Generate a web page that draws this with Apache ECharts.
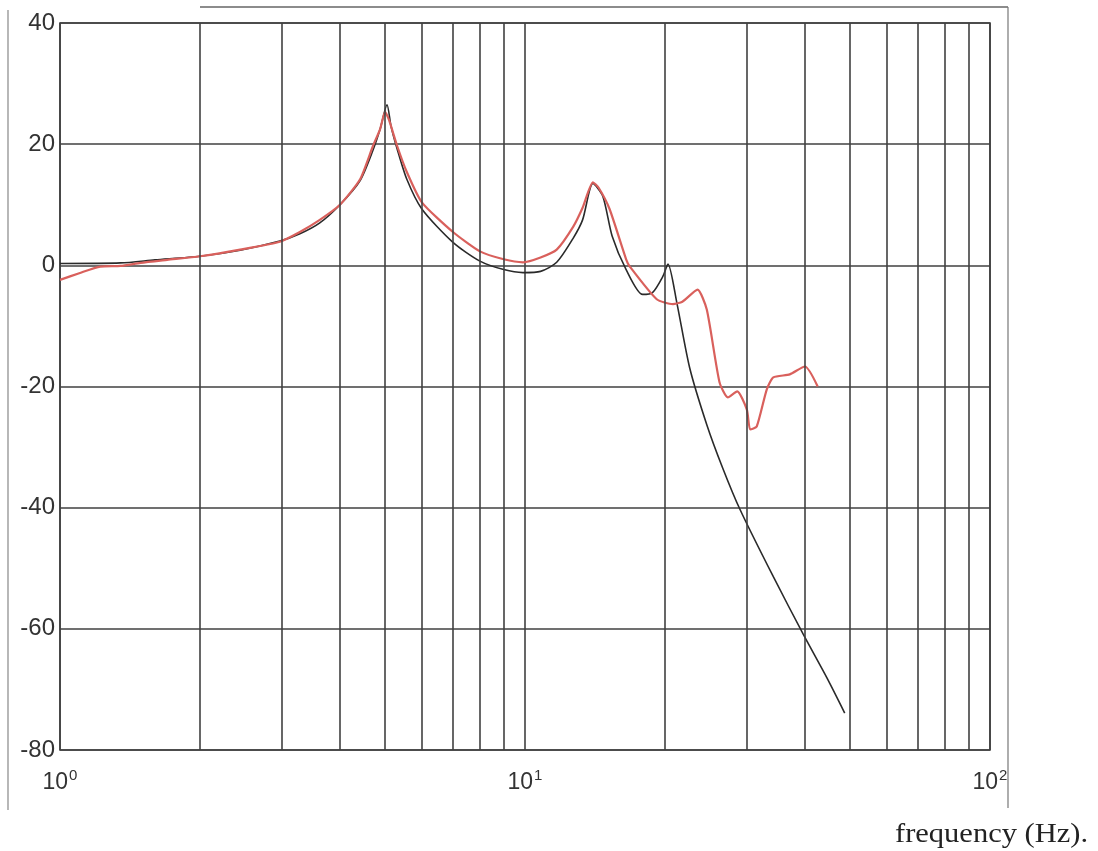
<!DOCTYPE html>
<html>
<head>
<meta charset="utf-8">
<script src="https://cdn.jsdelivr.net/npm/echarts@6/dist/echarts.min.js"></script>
<style>
  html, body { margin: 0; padding: 0; background: #ffffff; }
  #chart { width: 1098px; height: 851px; }
</style>
</head>
<body>
<div id="chart"></div>
<script>
// Frequency response magnitude (dB) versus frequency (Hz), log frequency axis.

// Model response
const modelFreq = [1.0, 1.35, 1.6, 2.0, 2.44, 2.97, 3.28, 3.62, 4.0, 4.42, 4.71, 4.88, 5.05, 5.15, 5.31, 5.57, 6.0, 7.0, 8.0, 9.0, 9.9, 10.8, 11.7, 12.7, 13.3, 14.0, 14.7, 15.4, 16.5, 17.9, 18.8, 19.8, 20.3, 21.2, 22.6, 24.6, 26.6, 29.0, 34.2, 39.6, 44.6, 48.7];
const modelDb   = [0.3, 0.4, 0.9, 1.5, 2.5, 4.0, 5.2, 7.0, 10.0, 14.0, 19.0, 22.5, 26.5, 23.0, 19.2, 14.2, 9.3, 3.8, 0.7, -0.7, -1.2, -1.0, 0.5, 4.5, 7.5, 13.5, 11.4, 4.8, -0.7, -4.8, -4.5, -1.8, 0.2, -6.1, -16.9, -26.3, -33.4, -40.3, -51.4, -60.8, -68.1, -73.9];

// Measured response
const measFreq = [1.0, 1.1, 1.22, 1.35, 1.49, 1.7, 2.0, 2.44, 2.97, 3.28, 3.62, 4.0, 4.42, 4.71, 4.88, 5.0, 5.1, 5.31, 5.57, 6.0, 7.0, 8.0, 9.0, 9.9, 10.8, 11.7, 12.7, 13.3, 14.0, 14.4, 15.2, 16.5, 16.8, 19.2, 20.8, 21.8, 23.5, 24.6, 26.2, 27.3, 28.6, 30.0, 30.5, 31.5, 33.1, 34.2, 37.1, 40.0, 42.6];
const measDb   = [-2.4, -1.3, -0.2, -0.1, 0.4, 0.9, 1.5, 2.6, 3.9, 5.5, 7.5, 10.0, 14.2, 19.7, 22.5, 25.3, 24.0, 19.7, 15.4, 10.4, 5.5, 2.3, 1.0, 0.5, 1.3, 2.6, 6.4, 9.5, 13.7, 12.8, 9.3, 1.0, -0.2, -5.6, -6.4, -6.0, -4.0, -7.3, -19.3, -21.8, -20.8, -23.8, -27.1, -26.6, -20.5, -18.5, -18.0, -16.7, -20.0];

// Axis settings and grid lines
const yTicks = [-80, -60, -40, -20, 0, 20, 40];
const xDecades = [1, 10, 100];
const minorGridFreq = [2, 3, 4, 5, 6, 7, 8, 9, 20, 30, 40, 50, 60, 70, 80, 90];
const xLabel = 'frequency (Hz).';

const gridColor = '#404040';

const pair = (xs, ys) => xs.map((x, i) => [x, ys[i]]);

const chart = echarts.init(document.getElementById('chart'), null, { renderer: 'canvas' });

chart.setOption({
  animation: false,
  backgroundColor: '#ffffff',
  grid: {
    left: 60, top: 23, right: 108, bottom: 101,
    show: true, borderColor: gridColor, borderWidth: 1.6
  },
  xAxis: {
    type: 'log',
    logBase: 10,
    min: xDecades[0],
    max: xDecades[xDecades.length - 1],
    axisLine: { show: false },
    axisTick: { show: false },
    splitLine: { show: true, lineStyle: { color: gridColor, width: 1.6 } },
    axisLabel: {
      margin: 18,
      color: '#333',
      fontFamily: 'Liberation Sans, Arial, sans-serif',
      formatter: function (v) {
        const e = Math.round(Math.log10(v));
        return '{b|10}{s|' + e + '}';
      },
      rich: {
        b: { fontSize: 23, color: '#333', fontFamily: 'Liberation Sans', lineHeight: 26, verticalAlign: 'bottom' },
        s: { fontSize: 15, color: '#333', fontFamily: 'Liberation Sans', lineHeight: 26, verticalAlign: 'top', padding: [0, 0, 0, 1] }
      }
    }
  },
  yAxis: {
    type: 'value',
    min: yTicks[0],
    max: yTicks[yTicks.length - 1],
    interval: 20,
    axisLine: { show: false },
    axisTick: { show: false },
    splitLine: { show: true, lineStyle: { color: gridColor, width: 1.6 } },
    axisLabel: {
      margin: 5,
      color: '#333',
      fontSize: 24,
      padding: [6, 0, 0, 0],
      fontFamily: 'Liberation Sans, Arial, sans-serif'
    }
  },
  series: [
    {
      name: 'grid',
      type: 'line',
      data: [],
      silent: true,
      markLine: {
        silent: true,
        symbol: ['none', 'none'],
        label: { show: false },
        lineStyle: { color: gridColor, width: 1.6, type: 'solid' },
        data: minorGridFreq.map(f => ({ xAxis: f }))
      }
    },
    {
      name: 'model',
      type: 'line',
      data: pair(modelFreq, modelDb),
      showSymbol: false,
      smooth: 0.25,
      lineStyle: { color: '#2a2a2a', width: 1.6 },
      z: 3
    },
    {
      name: 'measured',
      type: 'line',
      data: pair(measFreq, measDb),
      showSymbol: false,
      smooth: 0.2,
      lineStyle: { color: '#d9605c', width: 2.2 },
      z: 4
    }
  ],
  graphic: [
    { type: 'line', shape: { x1: 8, y1: 10, x2: 8, y2: 810 }, style: { stroke: '#888', lineWidth: 1.2 } },
    { type: 'line', shape: { x1: 200, y1: 7, x2: 1008, y2: 7 }, style: { stroke: '#666', lineWidth: 1.5 } },
    { type: 'line', shape: { x1: 1008, y1: 7, x2: 1008, y2: 808 }, style: { stroke: '#777', lineWidth: 1.2 } },
    {
      type: 'text', x: 895, y: 821, scaleX: 1.13,
      style: { text: xLabel, font: '27px "Liberation Serif", "Times New Roman", serif', fill: '#222', textVerticalAlign: 'top' }
    }
  ]
});
</script>
</body>
</html>
